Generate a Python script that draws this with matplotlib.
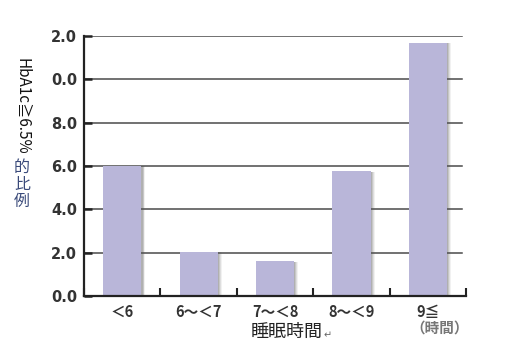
import matplotlib
matplotlib.use("Agg")
import matplotlib.pyplot as plt
import matplotlib.patheffects as pe

plt.rcParams['font.family'] = ['Noto Sans CJK JP', 'DejaVu Sans']

categories = ["＜6", "6～＜7", "7～＜8", "8～＜9", "9≦"]
values = [6.0, 2.05, 1.6, 5.75, 11.7]
ytick_values = [0, 2, 4, 6, 8, 10, 12]
ytick_labels = ["0.0", "2.0", "4.0", "6.0", "8.0", "0.0", "2.0"]
ylabel_latin = "HbA1c≧6.5%"
ylabel_cjk = "的\n比\n例"
xlabel = "睡眠時間"
unit_label = "（時間）"

W, H = 532, 356
fig = plt.figure(figsize=(W / 100, H / 100), dpi=100)
ax = fig.add_axes([84 / W, 1 - 296 / H, (466 - 84) / W, (296 - 36) / H])

ax.set_xlim(-0.5, len(categories) - 0.5)
ax.set_ylim(0, 12)

for y in ytick_values[1:]:
    ax.axhline(y, xmin=0, xmax=0.99, color="#4a4a4a", lw=1.1, zorder=1)

shadow = [pe.SimplePatchShadow(offset=(o, -0.3), shadow_rgbFace="#555555", alpha=a)
          for o, a in [(3.0, 0.08), (2.3, 0.12), (1.6, 0.16), (1.0, 0.2)]]
bars = ax.bar(range(len(categories)), values, width=0.5, color="#b9b6d9",
              zorder=3, linewidth=0)
for b in bars:
    b.set_path_effects(shadow + [pe.Normal()])

for s in ["top", "right"]:
    ax.spines[s].set_visible(False)
for s in ["left", "bottom"]:
    ax.spines[s].set_linewidth(1.6)
    ax.spines[s].set_color("#222222")
    ax.spines[s].set_zorder(4)

ax.set_yticks(ytick_values)
ax.set_yticklabels(ytick_labels, fontsize=10.5, fontweight="bold", color="#333333",
                   family=["DejaVu Sans"])
ax.tick_params(axis="y", direction="in", length=6, width=1.8, color="#222222", pad=5)

ax.set_xticks([i - 0.5 for i in range(len(categories) + 1)])
ax.set_xticklabels([""] * (len(categories) + 1))
ax.set_xticks(range(len(categories)), minor=True)
ax.set_xticklabels(categories, minor=True, fontsize=10.5, fontweight="bold",
                   color="#333333")
ax.tick_params(axis="x", which="major", direction="in", length=6, width=1.5,
               color="#222222")
ax.tick_params(axis="x", which="minor", length=0, pad=6)

fig.text(22 / W, 1 - 58 / H, ylabel_latin, rotation=-90, ha="center", va="top",
         fontsize=11, color="#111111")
fig.text(22 / W, 1 - 159 / H, ylabel_cjk, ha="center", va="top", fontsize=11.5,
         color="#3a4a7a", linespacing=1.0)

fig.text(287 / W, 1 - 332 / H, xlabel, ha="center", va="center", fontsize=13,
         color="#222222")
fig.text(328 / W, 1 - 335 / H, "↵", ha="center", va="center", fontsize=7,
         color="#666666", family=["DejaVu Sans"])
fig.text(440 / W, 1 - 328 / H, unit_label, ha="center", va="center", fontsize=10.5,
         color="#777777", fontweight="bold")

fig.savefig("out.png", dpi=100)
